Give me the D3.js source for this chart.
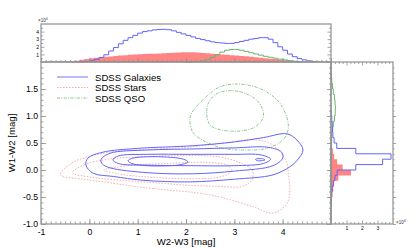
<!DOCTYPE html>
<html><head><meta charset="utf-8">
<script src="https://cdn.jsdelivr.net/npm/d3@7"></script>
<style>
body{margin:0;background:#fff;}
text{font-family:"Liberation Sans",Arial,sans-serif;}
</style></head><body>
<svg id="c" width="415" height="249"></svg>
<script>
// ---------- data ----------
const seriesNames = ["SDSS Galaxies","SDSS Stars","SDSS QSO"];
const xTickLabels = [-1,0,1,2,3,4];
const yTickLabels = [-1.0,-0.5,0.0,0.5,1.0,1.5];
const topHistTicks = [1,2,3,4];
const rightHistTicks = [1,2,3];
const BIN = 0.1;

// top histogram (W2-W3 bin left edge, count / 1e4)
const galTop = [[-0.2,0.0],[-0.1,0.05],[0.0,0.15],[0.1,0.35],[0.2,0.6],[0.3,0.95],[0.4,1.45],[0.5,1.9],[0.6,2.4],[0.7,2.85],[0.8,3.2],[0.9,3.5],[1.0,3.8],[1.1,4.0],[1.2,4.1],[1.3,4.22],[1.4,4.28],[1.5,4.3],[1.6,4.25],[1.7,4.1],[1.8,3.9],[1.9,3.7],[2.0,3.5],[2.1,3.3],[2.2,3.1],[2.3,2.95],[2.4,2.8],[2.5,2.65],[2.6,2.55],[2.7,2.5],[2.8,2.45],[2.9,2.45],[3.0,2.55],[3.1,2.7],[3.2,2.85],[3.3,3.0],[3.4,3.1],[3.5,3.2],[3.6,3.2],[3.7,3.0],[3.8,2.55],[3.9,2.0],[4.0,1.55],[4.1,1.05],[4.2,0.7],[4.3,0.45],[4.4,0.28],[4.5,0.15],[4.6,0.05]];
const starTop = [[-0.6,0.02],[-0.5,0.05],[-0.4,0.1],[-0.3,0.18],[-0.2,0.28],[-0.1,0.38],[0.0,0.48],[0.1,0.55],[0.2,0.62],[0.3,0.68],[0.4,0.74],[0.5,0.8],[0.6,0.85],[0.7,0.9],[0.8,0.94],[0.9,0.98],[1.0,1.02],[1.1,1.05],[1.2,1.08],[1.3,1.1],[1.4,1.13],[1.5,1.16],[1.6,1.19],[1.7,1.22],[1.8,1.25],[1.9,1.27],[2.0,1.28],[2.1,1.28],[2.2,1.25],[2.3,1.2],[2.4,1.15],[2.5,1.1],[2.6,1.05],[2.7,1.0],[2.8,0.95],[2.9,0.9],[3.0,0.85],[3.1,0.8],[3.2,0.75],[3.3,0.7],[3.4,0.63],[3.5,0.56],[3.6,0.5],[3.7,0.44],[3.8,0.38],[3.9,0.3],[4.0,0.24],[4.1,0.18],[4.2,0.12],[4.3,0.06],[4.4,0.02]];
const qsoTop = [[2.0,0.02],[2.1,0.03],[2.2,0.05],[2.3,0.15],[2.4,0.35],[2.5,0.6],[2.6,0.95],[2.7,1.3],[2.8,1.55],[2.9,1.65],[3.0,1.65],[3.1,1.55],[3.2,1.4],[3.3,1.22],[3.4,1.05],[3.5,0.9],[3.6,0.75],[3.7,0.62],[3.8,0.5],[3.9,0.38],[4.0,0.28],[4.1,0.18],[4.2,0.1],[4.3,0.04]];

// right histogram (W1-W2 bin lower edge, count / 1e4)
const galRight = [[-0.6,0.02],[-0.5,0.04],[-0.4,0.08],[-0.3,0.15],[-0.2,0.25],[-0.1,0.4],[0.0,1.6],[0.1,3.33],[0.2,3.87],[0.3,1.6],[0.4,0.37],[0.5,0.2],[0.6,0.12],[0.7,0.1],[0.8,0.08],[0.9,0.05],[1.0,0.02]];
const starRight = [[-0.7,0.03],[-0.6,0.06],[-0.5,0.1],[-0.4,0.15],[-0.3,0.2],[-0.2,0.47],[-0.1,1.29],[0.0,0.75],[0.1,0.4],[0.2,0.2],[0.3,0.12],[0.4,0.06],[0.5,0.03]];
const qsoRight = [[0.4,0.02],[0.5,0.04],[0.6,0.06],[0.7,0.1],[0.8,0.15],[0.9,0.22],[1.0,0.27],[1.1,0.28],[1.2,0.26],[1.3,0.22],[1.4,0.15],[1.5,0.1],[1.6,0.05],[1.7,0.02]];

// density contours (W2-W3, W1-W2)
const galContours = [
 [[-0.07,0.09],[-0.03,0.22],[0.28,0.33],[1.0,0.40],[2.15,0.45],[3.0,0.52],[3.6,0.6],[4.09,0.67],[4.3,0.55],[4.42,0.37],[4.3,0.18],[4.15,0.06],[3.8,-0.09],[3.0,-0.17],[2.08,-0.22],[1.11,-0.19],[0.5,-0.12],[0.08,-0.06]],
 [[0.24,0.19],[0.43,0.31],[1.2,0.37],[2.15,0.39],[3.0,0.41],[3.7,0.42],[3.98,0.33],[4.0,0.22],[3.8,0.08],[3.0,-0.02],[2.15,-0.07],[1.2,-0.05],[0.43,0.04],[0.27,0.11]],
 [[0.49,0.19],[0.6,0.26],[1.2,0.29],[2.1,0.29],[3.0,0.29],[3.55,0.28],[3.75,0.2],[3.6,0.12],[3.0,0.08],[2.1,0.08],[1.2,0.09],[0.6,0.12]],
 [[0.8,0.17],[0.9,0.22],[1.2,0.245],[1.6,0.24],[1.95,0.2],[2.04,0.15],[1.9,0.1],[1.5,0.075],[1.1,0.085],[0.88,0.12]],
 [[3.44,0.2],[3.6,0.205],[3.63,0.185],[3.46,0.175]]
];
const starContours = [
 [[-0.6,-0.09],[-0.36,0.13],[-0.05,0.24],[0.43,0.33],[1.2,0.38],[2.0,0.42],[2.8,0.5],[3.32,0.56],[3.67,0.52],[3.9,0.38],[4.08,0.15],[4.12,-0.1],[4.15,-0.35],[4.1,-0.6],[3.95,-0.74],[3.76,-0.8],[3.45,-0.7],[3.1,-0.6],[2.7,-0.5],[2.2,-0.42],[1.5,-0.36],[0.9,-0.3],[0.3,-0.22],[-0.13,-0.17]],
 [[-0.35,-0.05],[-0.1,0.1],[0.4,0.2],[1.2,0.25],[2.0,0.27],[2.7,0.24],[3.1,0.14],[3.37,0.0],[3.37,-0.17],[3.18,-0.3],[2.6,-0.3],[2.0,-0.28],[1.4,-0.24],[0.8,-0.2],[0.1,-0.14]],
 [[0.3,0.0],[0.8,0.08],[1.6,0.12],[2.4,0.14],[2.85,0.09],[2.95,-0.02],[2.7,-0.13],[2.0,-0.16],[1.2,-0.13],[0.6,-0.07]]
];
const qsoContours = [
 [[2.08,0.93],[2.14,0.7],[2.35,0.55],[2.77,0.4],[3.2,0.37],[3.67,0.4],[4.0,0.55],[4.1,0.7],[4.11,0.89],[3.94,1.24],[3.6,1.48],[3.12,1.59],[2.7,1.54],[2.35,1.3],[2.12,1.06]],
 [[2.7,1.44],[3.12,1.45],[3.5,1.26],[3.6,0.98],[3.39,0.78],[2.91,0.72],[2.5,0.83],[2.43,1.11],[2.5,1.3]]
];

// ---------- drawing ----------
const BLUE = "#6464f8", RED = "#ff8585", REDL = "#e99a9a", GREEN = "#6ab56a", FRAME = "#8f8f8f";
const svg = d3.select("#c");
const x = d3.scaleLinear([-1,5],[41,331]);
const y = d3.scaleLinear([-1,2],[224,62]);
const hy = d3.scaleLinear([0,5],[62,24]);
const hx = d3.scaleLinear([0,4],[331,393]);

// top histogram
const topStep = arr => [[arr[0][0],0],...arr,[arr[arr.length-1][0]+BIN,0]];
const topLine = d3.line().x(d=>x(d[0])).y(d=>hy(d[1])).curve(d3.curveStepAfter);
const topArea = d3.area().x(d=>x(d[0])).y0(hy(0)).y1(d=>hy(d[1])).curve(d3.curveStepAfter);
svg.append("path").attr("d",topArea(topStep(starTop))).attr("fill",RED).attr("stroke","none");
svg.append("path").attr("d",topLine(topStep(qsoTop))).attr("fill","none").attr("stroke",GREEN).attr("stroke-width",1);
svg.append("path").attr("d",topLine(topStep(galTop))).attr("fill","none").attr("stroke",BLUE).attr("stroke-width",1);

// right histogram
const rightStep = (arr,full) => {
  const pts = [[arr[0][0],0],...arr,[arr[arr.length-1][0]+BIN,0]];
  if(full){ pts.unshift([y.domain()[0],0]); pts.push([y.domain()[1],0]); }
  return pts;
};
const rLine = d3.line().x(d=>hx(d[1])).y(d=>y(d[0])).curve(d3.curveStepBefore);
const rArea = d3.area().y(d=>y(d[0])).x0(hx(0)).x1(d=>hx(d[1])).curve(d3.curveStepBefore);
svg.append("path").attr("d",rArea(rightStep(starRight))).attr("fill",RED).attr("stroke","none");
svg.append("path").attr("d",rLine(rightStep(qsoRight,true))).attr("fill","none").attr("stroke",GREEN).attr("stroke-width",1);
svg.append("path").attr("d",rLine(rightStep(galRight))).attr("fill","none").attr("stroke",BLUE).attr("stroke-width",1);

// contours
const cLine = d3.line().x(d=>x(d[0])).y(d=>y(d[1])).curve(d3.curveCatmullRomClosed.alpha(0.5));
const main = svg.append("g");
starContours.forEach(c=>main.append("path").attr("d",cLine(c)).attr("fill","none").attr("stroke",REDL).attr("stroke-width",0.75).attr("stroke-dasharray","1.6,1.4"));
qsoContours.forEach(c=>main.append("path").attr("d",cLine(c)).attr("fill","none").attr("stroke",GREEN).attr("stroke-width",0.75).attr("stroke-dasharray","3,1.3,1,1.3"));
galContours.forEach(c=>main.append("path").attr("d",cLine(c)).attr("fill","none").attr("stroke",BLUE).attr("stroke-width",1));

// frames
[[41,62,290,162],[41,24,290,38],[331,62,62,162]].forEach(r=>
  svg.append("rect").attr("x",r[0]).attr("y",r[1]).attr("width",r[2]).attr("height",r[3])
   .attr("fill","none").attr("stroke",FRAME).attr("stroke-width",1.2));

// axes helper
function ax(gen, tr, vals, size, fmt, fs, pad){
  const a = gen.tickValues(vals).tickSizeInner(size).tickSizeOuter(0).tickPadding(pad||3).tickFormat(fmt||"");
  const g = svg.append("g").attr("transform",tr).call(a);
  g.select(".domain").remove();
  g.selectAll("line").attr("stroke",FRAME).attr("stroke-width",0.8);
  g.selectAll("text").attr("fill","#000").style("font-size",(fs||8.7)+"px").attr("font-family","Liberation Sans, Arial, sans-serif");
  return g;
}
const xMinor = d3.range(-0.9,5,0.1).map(v=>+v.toFixed(2));
const yMinor = d3.range(-0.9,2,0.1).map(v=>+v.toFixed(2));
const fmtY = d=>d.toFixed(1), fmtX = d=>String(d);

// main bottom
ax(d3.axisBottom(x),"translate(0,224)",xTickLabels,-5,fmtX,8.7,5);
ax(d3.axisBottom(x),"translate(0,224)",xMinor,-2.5);
// main left
ax(d3.axisLeft(y),"translate(41,0)",yTickLabels,-5,fmtY,8.7,3);
ax(d3.axisLeft(y),"translate(41,0)",yMinor,-2.5);
// top hist bottom (ticks up)
ax(d3.axisBottom(x),"translate(0,62)",xTickLabels.concat([5]),-4);
ax(d3.axisBottom(x),"translate(0,62)",xMinor,-2);
// top hist left & right
ax(d3.axisLeft(hy),"translate(41,0)",topHistTicks,-3.5,d=>String(d),5,2);
ax(d3.axisLeft(hy),"translate(41,0)",[0.5,1.5,2.5,3.5,4.5],-2);
ax(d3.axisRight(hy),"translate(331,0)",topHistTicks,-3.5);
ax(d3.axisRight(hy),"translate(331,0)",[0.5,1.5,2.5,3.5,4.5],-2);
// right hist left (ticks right) and right edge
ax(d3.axisRight(y),"translate(331,0)",yTickLabels.concat([2]),-4);
ax(d3.axisRight(y),"translate(331,0)",yMinor,-2);
ax(d3.axisLeft(y),"translate(393,0)",yTickLabels,-3);
ax(d3.axisLeft(y),"translate(393,0)",yMinor,-1.5);
// right hist bottom/top
ax(d3.axisBottom(hx),"translate(0,224)",rightHistTicks,-3.5,d=>String(d),5,2);
ax(d3.axisBottom(hx),"translate(0,224)",[0.25,0.5,0.75,1.25,1.5,1.75,2.25,2.5,2.75,3.25,3.5,3.75],-2);
ax(d3.axisTop(hx),"translate(0,62)",rightHistTicks,-3.5);
ax(d3.axisTop(hx),"translate(0,62)",[0.25,0.5,0.75,1.25,1.5,1.75,2.25,2.5,2.75,3.25,3.5,3.75],-2);

// multiplier labels
function mult(xp,yp){
  const t = svg.append("text").attr("x",xp).attr("y",yp).style("font-size","4.5px").attr("fill","#333");
  t.append("tspan").text("×10");
  t.append("tspan").attr("dy",-1.6).style("font-size","3.5px").text("4");
}
mult(38,22);
mult(396,224);

// axis titles
svg.append("text").attr("x",186).attr("y",245).attr("text-anchor","middle").style("font-size","9.6px").text("W2-W3 [mag]");
svg.append("text").attr("transform","translate(15,143) rotate(-90)").attr("text-anchor","middle").style("font-size","9.6px").text("W1-W2 [mag]");

// legend
const legStyles = [{c:BLUE,d:null,w:0.9},{c:REDL,d:"1.6,1.4",w:0.8},{c:GREEN,d:"3,1.3,1,1.3",w:0.8}];
seriesNames.forEach((n,i)=>{
  const yy = 77 + i*10.5;
  svg.append("line").attr("x1",57).attr("x2",88).attr("y1",yy).attr("y2",yy)
    .attr("stroke",legStyles[i].c).attr("stroke-width",legStyles[i].w).attr("stroke-dasharray",legStyles[i].d);
  svg.append("text").attr("x",95).attr("y",yy+3.5).style("font-size","9.6px").text(n);
});
</script>
</body></html>
